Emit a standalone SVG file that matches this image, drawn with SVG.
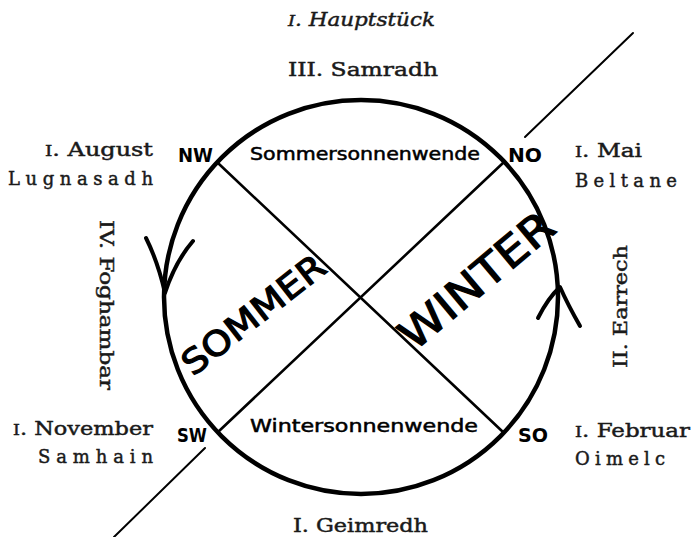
<svg xmlns="http://www.w3.org/2000/svg" width="694" height="537" viewBox="0 0 694 537">
<style>
.serif{font-family:"DejaVu Serif","Liberation Serif",serif;fill:#1a1a1a;stroke:#1a1a1a;stroke-width:0.45px;font-size:18px}
.hand{font-family:"DejaVu Sans","Liberation Sans",sans-serif;fill:#000}
.dir{font-size:19px;font-weight:bold}
.big{stroke:#000;stroke-width:1.2px}
.ln{stroke:#000;fill:none;stroke-linecap:round;stroke-linejoin:round}
</style>
<rect width="694" height="537" fill="#fff"/>
<g id="connectors">
  <circle class="ln" cx="361" cy="297" r="197" stroke-width="4.5"/>
  <path class="ln" d="M219,164 L503,432" stroke-width="2.6"/>
  <path class="ln" d="M503,163 L218,432" stroke-width="2.6"/>
  <path class="ln" d="M525,137 L633,33" stroke-width="2"/>
  <path class="ln" d="M205,448 L114,537" stroke-width="2"/>
  <path class="ln" d="M146,238 Q158,262 165,293 Q175,262 193,241" stroke-width="4"/>
  <path class="ln" d="M538,318 Q548,298 560,287 Q568,305 580,326" stroke-width="4"/>
</g>
<g id="hauptstueck"><text class="serif" x="288" y="26" font-style="italic" font-size="20" textLength="147" lengthAdjust="spacingAndGlyphs"><tspan font-size="15">I</tspan>. Hauptstück</text></g>
<g id="samradh"><text class="serif" x="288" y="76" font-size="19" textLength="150" lengthAdjust="spacingAndGlyphs">III. Samradh</text></g>
<g id="august"><text class="serif" x="45" y="156" textLength="108" lengthAdjust="spacingAndGlyphs"><tspan font-size="14">I</tspan>. August</text>
<text class="serif" x="8" y="185" textLength="145" lengthAdjust="spacing">Lugnasadh</text></g>
<g id="mai"><text class="serif" x="575" y="157" textLength="67" lengthAdjust="spacingAndGlyphs"><tspan font-size="14">I</tspan>. Mai</text>
<text class="serif" x="575" y="187" textLength="102" lengthAdjust="spacing">Beltane</text></g>
<g id="november"><text class="serif" x="13" y="435" textLength="140" lengthAdjust="spacingAndGlyphs"><tspan font-size="14">I</tspan>. November</text>
<text class="serif" x="38" y="463" textLength="115" lengthAdjust="spacing">Samhain</text></g>
<g id="februar"><text class="serif" x="575" y="437" textLength="115" lengthAdjust="spacingAndGlyphs"><tspan font-size="14">I</tspan>. Februar</text>
<text class="serif" x="575" y="465" textLength="90" lengthAdjust="spacing">Oimelc</text></g>
<g id="geimredh"><text class="serif" x="293" y="532" font-size="19" textLength="135" lengthAdjust="spacingAndGlyphs">I. Geimredh</text></g>
<g id="foghambar"><text class="serif" transform="translate(100,220) rotate(90)" x="0" y="0" textLength="170" lengthAdjust="spacingAndGlyphs">IV. Foghambar</text></g>
<g id="earrech"><text class="serif" transform="translate(627,368) rotate(-90)" x="0" y="0" textLength="123" lengthAdjust="spacingAndGlyphs">II. Earrech</text></g>
<g id="nw"><text class="hand dir" x="178" y="162" textLength="35" lengthAdjust="spacingAndGlyphs">NW</text></g>
<g id="no"><text class="hand dir" x="508" y="162" textLength="34" lengthAdjust="spacingAndGlyphs">NO</text></g>
<g id="sw"><text class="hand dir" x="177" y="442" textLength="30" lengthAdjust="spacingAndGlyphs">SW</text></g>
<g id="so"><text class="hand dir" x="518" y="442" textLength="30" lengthAdjust="spacingAndGlyphs">SO</text></g>
<g id="sommersonnenwende"><text class="hand" x="250" y="160" font-size="17" textLength="230" lengthAdjust="spacingAndGlyphs" stroke="#000" stroke-width="0.5">Sommersonnenwende</text></g>
<g id="wintersonnenwende"><text class="hand" x="250" y="432" font-size="17" textLength="228" lengthAdjust="spacingAndGlyphs" stroke="#000" stroke-width="0.5">Wintersonnenwende</text></g>
<g id="sommer"><text class="hand big" transform="translate(193,377) rotate(-38)" x="0" y="0" font-size="34" textLength="172" lengthAdjust="spacingAndGlyphs">SOMMER</text></g>
<g id="winter"><text class="hand big" transform="translate(414,352) rotate(-40)" x="0" y="0" font-size="42" textLength="188" lengthAdjust="spacingAndGlyphs">WINTER</text></g>
</svg>
